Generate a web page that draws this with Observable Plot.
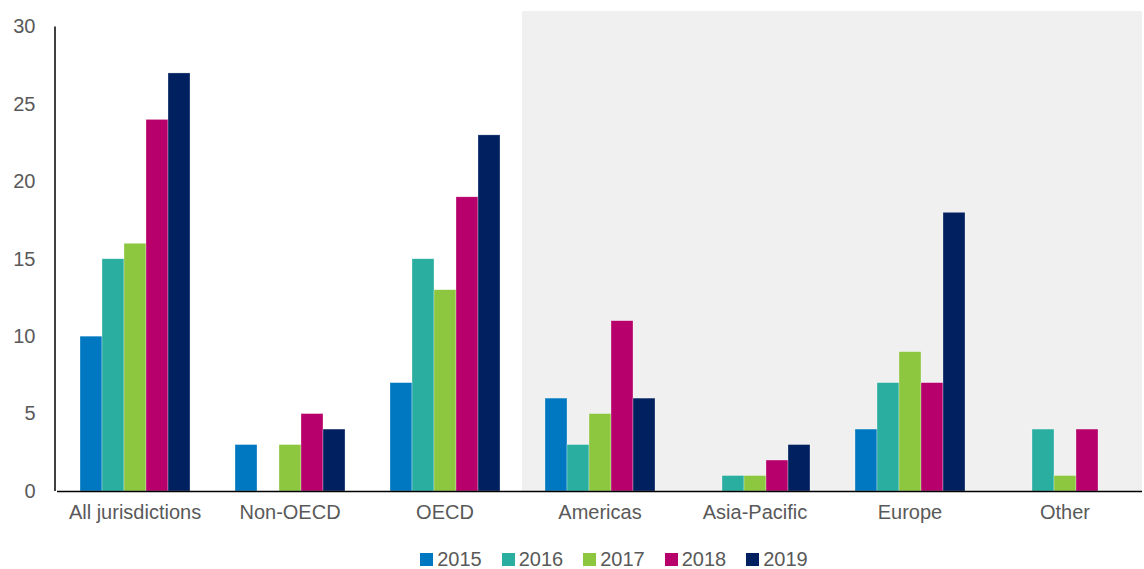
<!DOCTYPE html>
<html><head><meta charset="utf-8">
<script src="https://cdn.jsdelivr.net/npm/d3@7"></script>
<script src="https://cdn.jsdelivr.net/npm/@observablehq/plot@0.6"></script>
<style>
body{margin:0;background:#fff;font-family:"Liberation Sans Narrow","Arial Narrow","Liberation Sans",Arial,sans-serif;overflow:hidden;}
#legend{display:flex;justify-content:center;padding-left:84px;margin-top:19px;font-size:20px;color:#595959;line-height:18px;}
#legend .item{display:flex;align-items:center;margin:0 10px;}
#legend .sw{width:13px;height:13px;margin-right:4px;}
</style></head><body>
<div id="chart"></div>
<div id="legend"></div>
<script>
const categories = ["All jurisdictions","Non-OECD","OECD","Americas","Asia-Pacific","Europe","Other"];
const years = ["2015","2016","2017","2018","2019"];
const v2015 = [10, 3, 7, 6, null, 4, null];
const v2016 = [15, null, 15, 3, 1, 7, 4];
const v2017 = [16, 3, 13, 5, 1, 9, 1];
const v2018 = [24, 5, 19, 11, 2, 7, 4];
const v2019 = [27, 4, 23, 6, 3, 18, null];
const regionalCategories = ["Americas","Asia-Pacific","Europe","Other"];
const colors = ["#0078c1","#2aae9f","#8dc63f","#b7006c","#00205f"];
const yTicks = [0,5,10,15,20,25,30];

const series = [v2015, v2016, v2017, v2018, v2019];
const rows = [];
categories.forEach((c, i) => years.forEach((y, j) => {
  if (series[j][i] != null) rows.push({category: c, year: y, value: series[j][i]});
}));

const chart = Plot.plot({
  width: 1144,
  height: 531,
  marginLeft: 55,
  marginRight: 0,
  marginTop: 11,
  marginBottom: 40,
  style: {fontFamily: '"Liberation Sans Narrow","Arial Narrow","Liberation Sans",Arial,sans-serif', fontSize: "20px", color: "#595959", background: "transparent"},
  fx: {domain: categories, padding: 0, label: null, tickSize: 0, tickPadding: 13},
  x: {domain: years, axis: null, paddingInner: 0, paddingOuter: 1},
  y: {domain: [0, 31], ticks: yTicks, tickSize: 0, tickPadding: 22, label: null},
  color: {domain: years, range: colors},
  marks: [
    Plot.rect(regionalCategories, {fx: d => d, fill: "#f0f0f0"}),
    Plot.barY(rows, {fx: "category", x: "year", y: "value", fill: "year", stroke: "#ffffff", strokeOpacity: 0.5, strokeWidth: 0.6}),
    Plot.ruleY([0], {stroke: "#000", strokeWidth: 1.5})
  ]
});
document.getElementById("chart").appendChild(chart);

// y-axis line along the left of the plot area
const ys = chart.scale("y");
d3.select(chart).append("line")
  .attr("x1", 55).attr("x2", 55)
  .attr("y1", ys.apply(30)).attr("y2", ys.apply(0))
  .attr("stroke", "#000").attr("stroke-width", 1.5);

const legend = d3.select("#legend");
years.forEach((y, i) => {
  const it = legend.append("div").attr("class", "item");
  it.append("div").attr("class", "sw").style("background", colors[i]);
  it.append("span").text(y);
});
</script>
</body></html>
